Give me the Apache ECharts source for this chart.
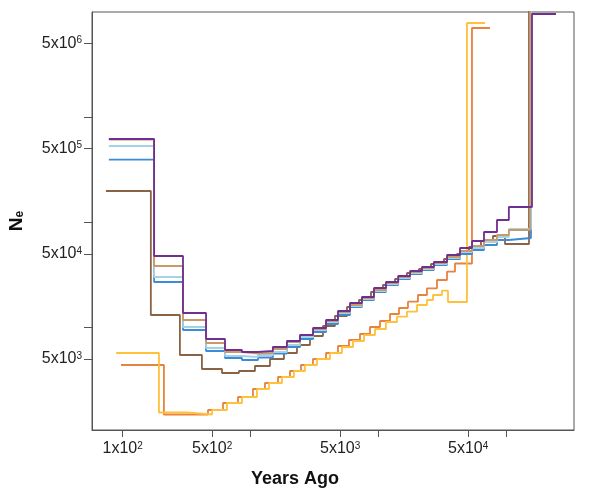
<!DOCTYPE html>
<html><head><meta charset="utf-8">
<script src="https://cdn.jsdelivr.net/npm/echarts@6/dist/echarts.min.js"></script>
<style>html,body{margin:0;padding:0;background:#fff}#c{width:593px;height:491px}</style>
</head><body><div id="c"></div>
<script>
// Each series: segment start times (years ago) plus a final end time, and Ne per segment.
const purpleTimes = [78, 176, 296, 448, 630, 855, 1140, 1490, 1920, 2430, 3070, 3880, 4810, 5970, 7400, 9190, 11400, 14200, 17600, 21800, 27000, 34200, 43200, 53600, 66500, 84000, 104000, 157700, 243000];
const purpleNe = [617000, 47670, 13690, 7746, 6090, 5829, 5957, 6503, 7415, 8456, 9856, 11740, 14300, 17030, 19430, 23650, 26980, 30760, 34320, 37460, 41800, 48720, 56790, 66180, 80600, 104800, 139300, 9517000];

const tanTimes = [78, 176, 296, 448, 630, 855, 1140, 1490, 1920, 2430, 3070, 3880, 4810, 5970, 7400, 9190, 11400, 14200, 17600, 21800, 27000, 34200, 43200, 53600, 66500, 84000, 104000, 152100, 243000];
const tanNe = [610400, 38280, 11740, 7097, 5829, 5641, 5702, 6225, 7254, 8456, 9643, 11490, 13990, 16310, 19010, 22640, 26400, 30100, 33570, 36640, 40890, 46640, 53180, 59320, 67640, 75450, 84200, 20000000];

const lightBlueTimes = [78, 176, 296, 448, 630, 855, 1140, 1490, 1920, 2430, 3070, 3880, 4810, 5970, 7400, 9190, 11400, 14200, 17600, 21800, 27000, 34200, 43200, 53600, 66500, 84000, 104000, 154800, 243000];
const lightBlueNe = [529400, 30100, 10070, 6362, 5340, 5224, 5458, 5829, 6794, 8093, 9435, 11240, 13690, 15950, 18600, 22150, 25820, 29440, 32850, 35850, 40010, 45630, 52030, 56790, 64750, 72220, 86060, 20000000];

const blueTimes = [78, 176, 296, 448, 630, 855, 1140, 1490, 1920, 2430, 3070, 3880, 4810, 5970, 7400, 9190, 11400, 14200, 17600, 21800, 27000, 34200, 43200, 53600, 66500, 84000, 104000, 154800, 243000];
const blueNe = [392300, 26980, 9435, 5957, 5111, 4892, 5168, 5641, 6503, 7746, 9031, 10760, 13100, 15610, 18190, 21670, 25260, 28810, 32140, 35080, 39140, 44640, 49800, 54360, 60630, 67640, 70660, 20000000];

const brownTimes = [74, 166, 280, 416, 597, 810, 1080, 1415, 1820, 2300, 2906, 3671, 4556, 5654, 7017, 8707, 10800, 13410, 16640, 20640, 25620, 32370, 40900, 50760, 62990, 78160, 97000, 149400, 243000];
const brownNe = [197700, 13100, 5458, 4017, 3680, 3845, 4290, 5000, 5702, 6794, 8272, 10300, 12820, 15610, 18190, 21670, 25260, 28810, 32850, 35850, 40010, 44640, 49800, 58040, 66180, 73820, 61970, 20000000];

const orangeTimes = [97, 210, 464, 608, 796, 1042, 1293, 1634, 2028, 2471, 3067, 3875, 4809, 5861, 7144, 8551, 10240, 12260, 14410, 16940, 20280, 23840, 28550, 34170, 39460, 53570, 74050];
const orangeNe = [4385, 1484, 1637, 1909, 2177, 2593, 2957, 3373, 3845, 4385, 5000, 5702, 6647, 7579, 8645, 10070, 11490, 13390, 15270, 17530, 20300, 23500, 28180, 33800, 40450, 7004000];

const yellowTimes = [89, 192, 318, 499, 653, 855, 1120, 1390, 1756, 2179, 2656, 3296, 4164, 5168, 6299, 7677, 9357, 11400, 13900, 16640, 19920, 23840, 26560, 31220, 34790, 48960, 67680];
const yellowNe = [5702, 1550, 1484, 1637, 1909, 2177, 2593, 2957, 3373, 3845, 4385, 5000, 5702, 6503, 7415, 8456, 9643, 11240, 12620, 14080, 16310, 18190, 20300, 22300, 17410, 7814000];

const xTickValues = [100, 500, 1000, 5000, 10000, 50000, 100000];
const xLabelValues = [100, 500, 5000, 50000];
const yTickValues = [5000, 10000, 50000, 100000, 500000, 1000000, 5000000];
const yLabelValues = [5000, 50000, 500000, 5000000];

function stepData(times, ne) {
  const d = [];
  for (let i = 0; i < ne.length; i++) d.push([times[i], ne[i]]);
  d.push([times[ne.length], ne[ne.length - 1]]);
  return d;
}
function sciLabel(v) {
  const e = Math.floor(Math.log10(v) + 1e-6);
  const m = Math.round(v / Math.pow(10, e));
  return m + 'x10{sup|' + e + '}';
}
const FONT = 'Liberation Sans, Arial, Helvetica, sans-serif';
const lines = [
  ['Orange', orangeTimes, orangeNe, '#E8823F'],
  ['Yellow', yellowTimes, yellowNe, '#FFC03A'],
  ['Brown', brownTimes, brownNe, '#8A6344'],
  ['Blue', blueTimes, blueNe, '#3B8BD6'],
  ['Light blue', lightBlueTimes, lightBlueNe, '#A5D2E6'],
  ['Tan', tanTimes, tanNe, '#C9996A'],
  ['Purple', purpleTimes, purpleNe, '#6F2E91']
];
const chart = echarts.init(document.getElementById('c'), null, {renderer: 'canvas'});
const labelStyle = {
  fontSize: 16, color: '#222', fontFamily: FONT, lineHeight: 16,
  formatter: sciLabel,
  rich: { sup: { fontSize: 10, fontFamily: FONT, color: '#222', verticalAlign: 'top', lineHeight: 10 } }
};
chart.setOption({
  animation: false,
  backgroundColor: '#fff',
  grid: { left: 92, top: 12, width: 482, height: 418, show: true, borderColor: '#555', borderWidth: 1, containLabel: false, outerBoundsMode: 'none' },
  xAxis: {
    type: 'log', logBase: 10, min: 57.6, max: 335700,
    name: 'Years Ago', nameLocation: 'middle', nameGap: 40,
    nameTextStyle: { fontSize: 18, fontWeight: 'bold', color: '#111', fontFamily: FONT, padding: [0, 76, 0, 0] },
    axisLine: { show: true, lineStyle: { color: '#555', width: 1 } },
    axisTick: { show: true, length: 7, lineStyle: { color: '#555' }, customValues: xTickValues },
    axisLabel: Object.assign({ margin: 11, customValues: xLabelValues }, labelStyle),
    splitLine: { show: false }, minorTick: { show: false }
  },
  yAxis: {
    type: 'log', logBase: 10, min: 1057, max: 9940000,
    name: 'N{sub|e}', nameLocation: 'middle', nameRotate: 90, nameGap: 66,
    nameTextStyle: { fontSize: 19, fontWeight: 'bold', color: '#111', fontFamily: FONT,
      rich: { sub: { fontSize: 12, fontWeight: 'bold', fontFamily: FONT, color: '#111', verticalAlign: 'bottom', padding: [7, 0, 0, 0] } } },
    axisLine: { show: true, lineStyle: { color: '#555', width: 1 } },
    axisTick: { show: true, length: 8, lineStyle: { color: '#555' }, customValues: yTickValues },
    axisLabel: Object.assign({ margin: 10, customValues: yLabelValues }, labelStyle),
    splitLine: { show: false }, minorTick: { show: false }
  },
  series: lines.map(function (s) {
    return {
      name: s[0], type: 'line', step: 'end', showSymbol: false, symbol: 'none',
      clip: true, data: stepData(s[1], s[2]),
      lineStyle: { color: s[3], width: 1.8 }, itemStyle: { color: s[3] }
    };
  })
});
</script></body></html>
